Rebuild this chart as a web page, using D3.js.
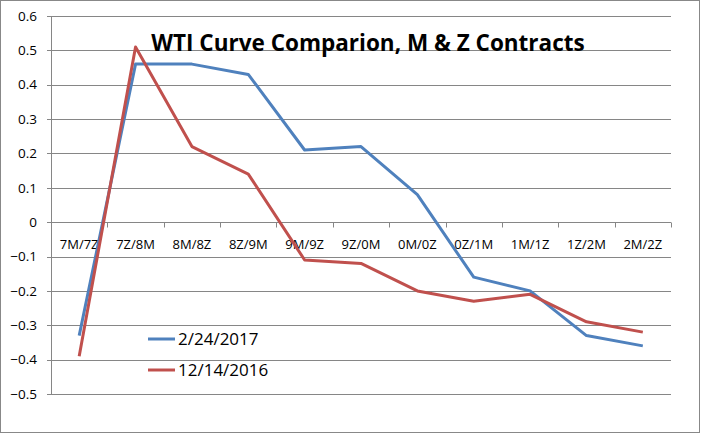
<!DOCTYPE html>
<html>
<head>
<meta charset="utf-8">
<script src="https://cdn.jsdelivr.net/npm/d3@7"></script>
<style>
  body { margin: 0; background: #fff; }
  text { font-family: "Open Sans", "Liberation Sans", sans-serif; fill: #000; }
</style>
</head>
<body>
<svg width="701" height="434"></svg>
<script>
var categories = ["7M/7Z", "7Z/8M", "8M/8Z", "8Z/9M", "9M/9Z", "9Z/0M", "0M/0Z", "0Z/1M", "1M/1Z", "1Z/2M", "2M/2Z"];
var feb2017 = [-0.33, 0.46, 0.46, 0.43, 0.21, 0.22, 0.08, -0.16, -0.20, -0.33, -0.36];
var dec2016 = [-0.39, 0.51, 0.22, 0.14, -0.11, -0.12, -0.20, -0.23, -0.21, -0.29, -0.32];
var yTicks = [0.6, 0.5, 0.4, 0.3, 0.2, 0.1, 0, -0.1, -0.2, -0.3, -0.4, -0.5];
var seriesNames = ["2/24/2017", "12/14/2016"];
var colors = ["#4f81bd", "#c0504d"];

var svg = d3.select("svg");

// chart border
svg.append("rect")
    .attr("x", 0.5).attr("y", 0.5)
    .attr("width", 699).attr("height", 432)
    .attr("fill", "#fff")
    .attr("stroke", "#888");

var plotLeft = 51, plotRight = 671, plotTop = 16, plotBottom = 394;

var x = d3.scaleBand().domain(categories).range([plotLeft, plotRight]);
var y = d3.scaleLinear().domain([-0.5, 0.6]).range([plotBottom, plotTop]);

// gridlines
svg.append("g")
  .selectAll("line")
  .data(yTicks)
  .enter().append("line")
    .attr("x1", plotLeft - 4).attr("x2", plotRight)
    .attr("y1", function(d) { return Math.round(y(d)) + 0.5; })
    .attr("y2", function(d) { return Math.round(y(d)) + 0.5; })
    .attr("stroke", "#868686");

// y axis line
svg.append("line")
    .attr("x1", plotLeft + 0.5).attr("x2", plotLeft + 0.5)
    .attr("y1", plotTop).attr("y2", plotBottom)
    .attr("stroke", "#868686");

// y labels
svg.append("g")
  .selectAll("text")
  .data(yTicks)
  .enter().append("text")
    .attr("x", 37)
    .attr("y", function(d) { return y(d); })
    .attr("dy", "0.35em")
    .attr("text-anchor", "end")
    .style("font-size", "13.5px")
    .text(function(d) { return d === 0 ? "0" : d3.format(".1f")(d); });

// x axis at zero with tick marks between categories
var y0 = Math.round(y(0)) + 0.5;
var boundaries = categories.map(function(c) { return x(c); }).concat([plotRight]);
svg.append("g")
  .selectAll("line")
  .data(boundaries)
  .enter().append("line")
    .attr("x1", function(d) { return Math.round(d) + 0.5; })
    .attr("x2", function(d) { return Math.round(d) + 0.5; })
    .attr("y1", y0).attr("y2", y0 + 5)
    .attr("stroke", "#868686");

svg.append("g")
  .selectAll("text")
  .data(categories)
  .enter().append("text")
    .attr("x", function(d) { return x(d) + x.bandwidth() / 2; })
    .attr("y", y0 + 26)
    .attr("text-anchor", "middle")
    .style("font-size", "13px")
    .text(function(d) { return d; });

// lines
var line = d3.line()
    .x(function(d, i) { return x(categories[i]) + x.bandwidth() / 2; })
    .y(function(d) { return y(d); });

[feb2017, dec2016].forEach(function(s, i) {
  svg.append("path")
      .datum(s)
      .attr("fill", "none")
      .attr("stroke", colors[i])
      .attr("stroke-width", 3)
      .attr("stroke-linejoin", "round")
      .attr("d", line);
});

// title
svg.append("text")
    .attr("x", 368)
    .attr("y", 51)
    .attr("text-anchor", "middle")
    .style("font-size", "22.5px")
    .style("font-weight", "bold")
    .text("WTI Curve Comparion, M & Z Contracts");

// legend
var legend = svg.append("g");
seriesNames.forEach(function(name, i) {
  var ly = 339 + i * 31;
  legend.append("line")
      .attr("x1", 148).attr("x2", 175)
      .attr("y1", ly).attr("y2", ly)
      .attr("stroke", colors[i])
      .attr("stroke-width", 3);
  legend.append("text")
      .attr("x", 178)
      .attr("y", ly)
      .attr("dy", "0.35em")
      .style("font-size", "17px")
      .text(name);
});
</script>
</body>
</html>
